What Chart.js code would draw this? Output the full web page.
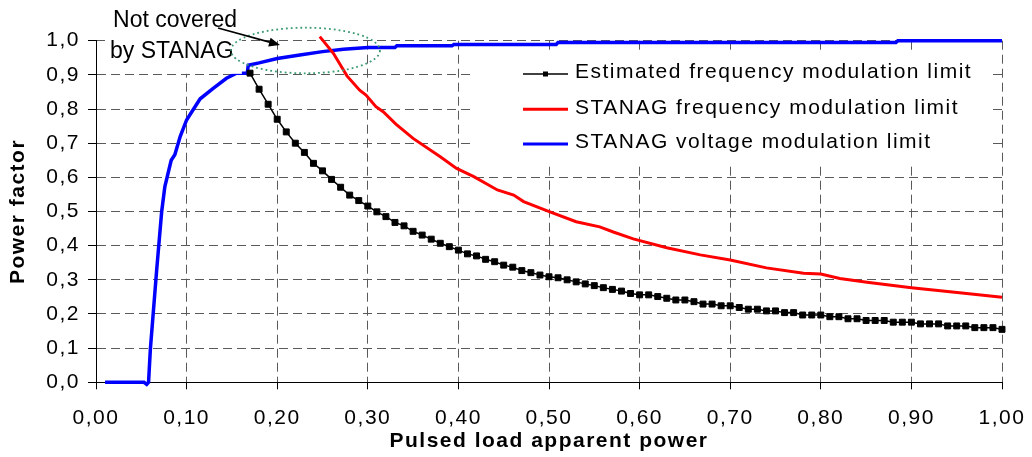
<!DOCTYPE html>
<html>
<head>
<meta charset="utf-8">
<script src="https://cdn.jsdelivr.net/npm/chart.js@4.4.0/dist/chart.umd.min.js"></script>
<style>
  html, body { margin: 0; padding: 0; background: #fff; }
  #wrap { width: 1032px; height: 457px; position: relative; }
</style>
</head>
<body>
<div id="wrap"><canvas id="pfChart"></canvas></div>
<script>
// tick labels (comma decimals, as in the source)
const xTickLabels = ['0,00', '0,10', '0,20', '0,30', '0,40', '0,50', '0,60', '0,70', '0,80', '0,90', '1,00'];
const yTickLabels = ['0,0', '0,1', '0,2', '0,3', '0,4', '0,5', '0,6', '0,7', '0,8', '0,9', '1,0'];

// Estimated frequency modulation limit (black, square markers)
const estimatedX = [0.17, 0.18, 0.19, 0.20, 0.21, 0.22, 0.23, 0.24, 0.25, 0.26, 0.27, 0.28, 0.29, 0.30,
  0.31, 0.32, 0.33, 0.34, 0.35, 0.36, 0.37, 0.38, 0.39, 0.40, 0.41, 0.42, 0.43, 0.44, 0.45, 0.46, 0.47,
  0.48, 0.49, 0.50, 0.51, 0.52, 0.53, 0.54, 0.55, 0.56, 0.57, 0.58, 0.59, 0.60, 0.61, 0.62, 0.63, 0.64,
  0.65, 0.66, 0.67, 0.68, 0.69, 0.70, 0.71, 0.72, 0.73, 0.74, 0.75, 0.76, 0.77, 0.78, 0.79, 0.80, 0.81,
  0.82, 0.83, 0.84, 0.85, 0.86, 0.87, 0.88, 0.89, 0.90, 0.91, 0.92, 0.93, 0.94, 0.95, 0.96, 0.97, 0.98,
  0.99, 1.00];
const estimatedY = [0.905, 0.858, 0.814, 0.770, 0.733, 0.700, 0.673, 0.641, 0.619, 0.594, 0.571, 0.548,
  0.532, 0.516, 0.499, 0.485, 0.468, 0.458, 0.442, 0.431, 0.419, 0.407, 0.397, 0.387, 0.376, 0.370,
  0.360, 0.353, 0.343, 0.337, 0.327, 0.321, 0.314, 0.309, 0.306, 0.300, 0.294, 0.288, 0.283, 0.277,
  0.272, 0.267, 0.260, 0.256, 0.256, 0.251, 0.246, 0.241, 0.241, 0.236, 0.229, 0.229, 0.224, 0.224,
  0.219, 0.214, 0.214, 0.209, 0.209, 0.204, 0.204, 0.197, 0.197, 0.197, 0.192, 0.192, 0.186, 0.186,
  0.181, 0.181, 0.181, 0.176, 0.176, 0.176, 0.171, 0.171, 0.171, 0.165, 0.165, 0.165, 0.160, 0.160,
  0.160, 0.155];

// STANAG frequency modulation limit (red)
const stanagFreqX = [0.247, 0.262, 0.277, 0.291, 0.298, 0.309, 0.317, 0.331, 0.350, 0.380, 0.398, 0.417,
  0.443, 0.461, 0.472, 0.501, 0.530, 0.556, 0.571, 0.593, 0.630, 0.667, 0.700, 0.740, 0.781, 0.800,
  0.821, 0.851, 0.900, 0.924, 0.961, 1.000];
const stanagFreqY = [1.012, 0.963, 0.897, 0.855, 0.841, 0.807, 0.792, 0.756, 0.714, 0.660, 0.626, 0.602,
  0.563, 0.548, 0.529, 0.499, 0.470, 0.455, 0.440, 0.420, 0.394, 0.373, 0.358, 0.335, 0.319, 0.317,
  0.304, 0.293, 0.277, 0.270, 0.260, 0.249];

// STANAG voltage modulation limit (blue)
const stanagVoltX = [0.010, 0.053, 0.056, 0.058, 0.060, 0.067, 0.0725, 0.076, 0.083, 0.087, 0.093, 0.100,
  0.107, 0.115, 0.129, 0.144, 0.155, 0.167, 0.168, 0.180, 0.200, 0.225, 0.250, 0.273, 0.300, 0.330,
  0.332, 0.393, 0.395, 0.508, 0.510, 0.883, 0.885, 1.000];
const stanagVoltY = [0, 0, -0.006, 0, 0.097, 0.33, 0.50, 0.573, 0.65, 0.666, 0.72, 0.768,
  0.797, 0.83, 0.86, 0.89, 0.905, 0.905, 0.928, 0.935, 0.948, 0.958, 0.968, 0.975, 0.980, 0.980,
  0.985, 0.985, 0.989, 0.989, 0.995, 0.995, 1.0, 1.0];

const seriesNames = ['Estimated frequency modulation limit', 'STANAG frequency modulation limit', 'STANAG voltage modulation limit'];
const annotationLines = ['Not covered', 'by STANAG'];

const toPoints = (xs, ys) => xs.map((x, i) => ({ x, y: ys[i] }));

// white box + text + arrow + dotted ellipse, then legend inside plot
const overlayPlugin = {
  id: 'overlay',
  beforeDraw(chart) { chart.ctx.letterSpacing = '1.5px'; },
  afterDatasetsDraw(chart) {
    const { ctx, scales: { x, y } } = chart;
    ctx.save();

    // annotation block
    ctx.letterSpacing = '0px';
    ctx.fillStyle = '#fff';
    ctx.fillRect(x.getPixelForValue(0.0099), 0, x.getPixelForValue(0.161) - x.getPixelForValue(0.0099), y.getPixelForValue(0.903));
    ctx.fillStyle = '#000';
    ctx.font = '23px "Liberation Sans", Arial, sans-serif';
    ctx.textBaseline = 'alphabetic';
    ctx.textAlign = 'left';
    ctx.fillText(annotationLines[0], x.getPixelForValue(0.0188), y.getPixelForValue(1.041));
    ctx.fillText(annotationLines[1], x.getPixelForValue(0.0155), y.getPixelForValue(0.9485));

    // dotted ellipse
    const cx = x.getPixelForValue(0.2312), cy = y.getPixelForValue(0.9713);
    const rx = x.getPixelForValue(0.2312 + 0.0822) - cx, ry = cy - y.getPixelForValue(0.9713 + 0.0667);
    ctx.strokeStyle = '#3a9a70';
    ctx.lineWidth = 1.8;
    ctx.setLineDash([1.8, 3]);
    ctx.beginPath();
    ctx.ellipse(cx, cy, rx, ry, 0, 0, Math.PI * 2);
    ctx.stroke();
    ctx.setLineDash([]);

    // arrow
    const ax1 = x.getPixelForValue(0.1347), ay1 = y.getPixelForValue(1.0372);
    const ax2 = x.getPixelForValue(0.2031), ay2 = y.getPixelForValue(0.9874);
    const ang = Math.atan2(ay2 - ay1, ax2 - ax1);
    ctx.strokeStyle = '#000';
    ctx.lineWidth = 1.6;
    ctx.beginPath();
    ctx.moveTo(ax1, ay1);
    ctx.lineTo(ax2 - 8 * Math.cos(ang), ay2 - 8 * Math.sin(ang));
    ctx.stroke();
    ctx.fillStyle = '#000';
    ctx.beginPath();
    ctx.moveTo(ax2, ay2);
    ctx.lineTo(ax2 - 11 * Math.cos(ang) + 4.5 * Math.sin(ang), ay2 - 11 * Math.sin(ang) - 4.5 * Math.cos(ang));
    ctx.lineTo(ax2 - 11 * Math.cos(ang) - 4.5 * Math.sin(ang), ay2 - 11 * Math.sin(ang) + 4.5 * Math.cos(ang));
    ctx.closePath();
    ctx.fill();

    // legend
    const lg = { left: 473, top: 50, right: 990, bottom: 165, lineX1: 523, lineX2: 568, textX: 575, rows: [74, 109.3, 144] };
    ctx.fillStyle = '#fff';
    ctx.fillRect(lg.left, lg.top, lg.right - lg.left, lg.bottom - lg.top);
    ctx.letterSpacing = '1.5px';
    ctx.font = '21px "Liberation Sans", Arial, sans-serif';
    chart.data.datasets.forEach((ds, i) => {
      const ry2 = lg.rows[i];
      ctx.strokeStyle = ds.borderColor;
      ctx.lineWidth = i === 0 ? 1.5 : 3;
      ctx.beginPath();
      ctx.moveTo(lg.lineX1, ry2);
      ctx.lineTo(lg.lineX2, ry2);
      ctx.stroke();
      if (i === 0) {
        ctx.fillStyle = '#000';
        ctx.fillRect((lg.lineX1 + lg.lineX2) / 2 - 2.5, ry2 - 2.5, 5, 5);
      }
      ctx.fillStyle = '#000';
      ctx.fillText(ds.label, lg.textX, ry2 + 4.3);
    });

    ctx.restore();
  }
};

const gridStyle = {
  color: '#5a5a5a',
  lineWidth: 1,
  tickColor: '#000',
  tickWidth: 1,
  tickBorderDash: []
};

new Chart(document.getElementById('pfChart'), {
  type: 'line',
  data: {
    datasets: [
      {
        label: seriesNames[0],
        data: toPoints(estimatedX, estimatedY),
        borderColor: '#000',
        backgroundColor: '#000',
        borderWidth: 1.5,
        pointStyle: 'rect',
        pointRadius: 4.2,
        pointBorderWidth: 1,
        pointBackgroundColor: '#000',
        pointBorderColor: '#000',
        tension: 0,
        clip: false
      },
      {
        label: seriesNames[1],
        data: toPoints(stanagFreqX, stanagFreqY),
        borderColor: '#ff0000',
        borderWidth: 3,
        pointRadius: 0,
        tension: 0,
        clip: false
      },
      {
        label: seriesNames[2],
        data: toPoints(stanagVoltX, stanagVoltY),
        borderColor: '#0000ff',
        borderWidth: 3.5,
        pointRadius: 0,
        tension: 0,
        clip: false
      }
    ]
  },
  options: {
    responsive: true,
    maintainAspectRatio: false,
    animation: false,
    devicePixelRatio: 1,
    layout: { padding: { top: 40.7, right: 30, left: 0, bottom: 0 } },
    plugins: { legend: { display: false }, tooltip: { enabled: false } },
    scales: {
      x: {
        type: 'linear',
        min: 0,
        max: 1,
        afterFit: (s) => { s.height = 74.7; s.paddingLeft = 0; s.paddingRight = 0; },
        ticks: {
          stepSize: 0.1,
          autoSkip: false,
          maxRotation: 0,
          padding: 16,
          color: '#000',
          font: { family: '"Liberation Sans", Arial, sans-serif', size: 21 },
          callback: (v, i) => xTickLabels[i]
        },
        grid: { ...gridStyle, tickLength: 7 },
        border: { display: true, color: '#000', width: 1, dash: [9, 5] },
        title: {
          display: true,
          text: 'Pulsed load apparent power',
          color: '#000',
          padding: { top: 0, bottom: 3 },
          font: { family: '"Liberation Sans", Arial, sans-serif', size: 21, weight: 'bold' }
        }
      },
      y: {
        min: 0,
        max: 1,
        afterFit: (s) => { s.width = 96; s.paddingTop = 0; s.paddingBottom = 0; },
        ticks: {
          stepSize: 0.1,
          autoSkip: false,
          padding: 8,
          color: '#000',
          font: { family: '"Liberation Sans", Arial, sans-serif', size: 21 },
          callback: (v, i) => yTickLabels[i]
        },
        grid: { ...gridStyle, tickLength: 8 },
        border: { display: true, color: '#000', width: 1, dash: [9, 5] },
        title: {
          display: true,
          text: 'Power factor',
          color: '#000',
          padding: { top: 6, bottom: 0 },
          font: { family: '"Liberation Sans", Arial, sans-serif', size: 21, weight: 'bold' }
        }
      }
    }
  },
  plugins: [overlayPlugin]
});
</script>
</body>
</html>
